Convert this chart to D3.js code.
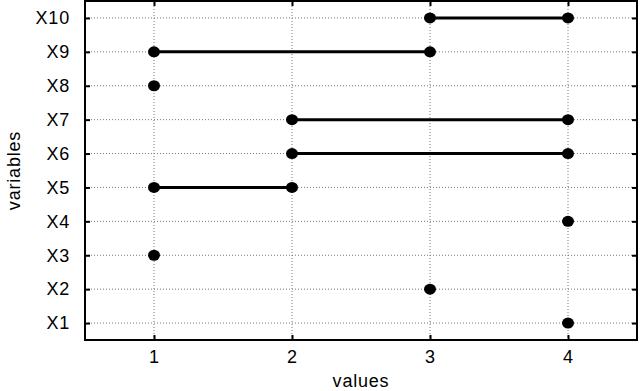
<!DOCTYPE html>
<html>
<head>
<meta charset="utf-8">
<script src="https://cdn.jsdelivr.net/npm/d3@7"></script>
<style>
  body { margin: 0; background: #fff; }
  svg text { font-family: "Liberation Sans", Arial, sans-serif; font-size: 18px; letter-spacing: 0.8px; fill: #000; }
</style>
</head>
<body>
<div class="chart"></div>
<script>
// variable names on the y axis, bottom to top
const variables = ["X1", "X2", "X3", "X4", "X5", "X6", "X7", "X8", "X9", "X10"];
// start and end value of each variable's range
const startValues = [4, 3, 1, 4, 1, 2, 2, 1, 1, 3];
const endValues   = [4, 3, 1, 4, 2, 4, 4, 1, 3, 4];
const xTicks = [1, 2, 3, 4];

const width = 640;
const height = 391;
const margin = { top: 1, right: 3, bottom: 51, left: 85 };

const svg = d3.select(".chart")
  .append("svg")
  .attr("width", width)
  .attr("height", height);

const x = d3.scaleLinear()
  .domain([0.5, 4.5])
  .range([margin.left, width - margin.right]);

const y = d3.scaleLinear()
  .domain([0.5, variables.length + 0.5])
  .range([height - margin.bottom, margin.top]);

const yTicks = variables.map((v, i) => i + 1);

// grid lines
svg.append("g")
  .selectAll("line")
  .data(xTicks)
  .enter()
  .append("line")
  .attr("x1", d => x(d)).attr("x2", d => x(d))
  .attr("y1", y.range()[0]).attr("y2", y.range()[1])
  .attr("stroke", "#777")
  .attr("stroke-width", 1)
  .attr("stroke-dasharray", "1,2");

svg.append("g")
  .selectAll("line")
  .data(yTicks)
  .enter()
  .append("line")
  .attr("x1", x.range()[0]).attr("x2", x.range()[1])
  .attr("y1", d => y(d)).attr("y2", d => y(d))
  .attr("stroke", "#777")
  .attr("stroke-width", 1)
  .attr("stroke-dasharray", "1,2");

// axes with inward ticks on all four sides
const tickLen = 5;
svg.append("g")
  .attr("transform", `translate(0,${y.range()[0]})`)
  .call(d3.axisBottom(x).tickValues(xTicks).tickSizeInner(-tickLen).tickSizeOuter(0).tickPadding(10).tickFormat(d3.format("d")))
  .call(g => g.select(".domain").remove());
svg.append("g")
  .attr("transform", `translate(0,${y.range()[1]})`)
  .call(d3.axisTop(x).tickValues(xTicks).tickSizeInner(-tickLen).tickSizeOuter(0).tickFormat(""))
  .call(g => g.select(".domain").remove());
svg.append("g")
  .attr("transform", `translate(${x.range()[0]},0)`)
  .call(d3.axisLeft(y).tickValues(yTicks).tickSizeInner(-tickLen).tickSizeOuter(0).tickPadding(15).tickFormat(d => variables[d - 1]))
  .call(g => g.select(".domain").remove());
svg.append("g")
  .attr("transform", `translate(${x.range()[1]},0)`)
  .call(d3.axisRight(y).tickValues(yTicks).tickSizeInner(-tickLen).tickSizeOuter(0).tickFormat(""))
  .call(g => g.select(".domain").remove());

svg.selectAll(".tick line").attr("stroke", "#000").attr("stroke-width", 2);
svg.selectAll(".tick text").attr("font-size", null).attr("font-family", null);

// frame
svg.append("rect")
  .attr("x", x.range()[0])
  .attr("y", y.range()[1])
  .attr("width", x.range()[1] - x.range()[0])
  .attr("height", y.range()[0] - y.range()[1])
  .attr("fill", "none")
  .attr("stroke", "#000")
  .attr("stroke-width", 2);

// segments and end points
const rows = variables.map((v, i) => ({ name: v, pos: i + 1, start: startValues[i], end: endValues[i] }));

svg.append("g")
  .selectAll("line")
  .data(rows.filter(d => d.start !== d.end))
  .enter()
  .append("line")
  .attr("x1", d => x(d.start)).attr("x2", d => x(d.end))
  .attr("y1", d => y(d.pos)).attr("y2", d => y(d.pos))
  .attr("stroke", "#000")
  .attr("stroke-width", 3);

const points = rows.flatMap(d => d.start === d.end
  ? [{ pos: d.pos, v: d.start }]
  : [{ pos: d.pos, v: d.start }, { pos: d.pos, v: d.end }]);

svg.append("g")
  .selectAll("ellipse")
  .data(points)
  .enter()
  .append("ellipse")
  .attr("cx", d => x(d.v))
  .attr("cy", d => y(d.pos))
  .attr("rx", 6)
  .attr("ry", 5.5)
  .attr("fill", "#000");

// axis titles
svg.append("text")
  .attr("x", (x.range()[0] + x.range()[1]) / 2)
  .attr("y", height - 4)
  .attr("text-anchor", "middle")
  .text("values");

svg.append("text")
  .attr("transform", `translate(20,${(y.range()[0] + y.range()[1]) / 2}) rotate(-90)`)
  .attr("text-anchor", "middle")
  .text("variables");
</script>
</body>
</html>
